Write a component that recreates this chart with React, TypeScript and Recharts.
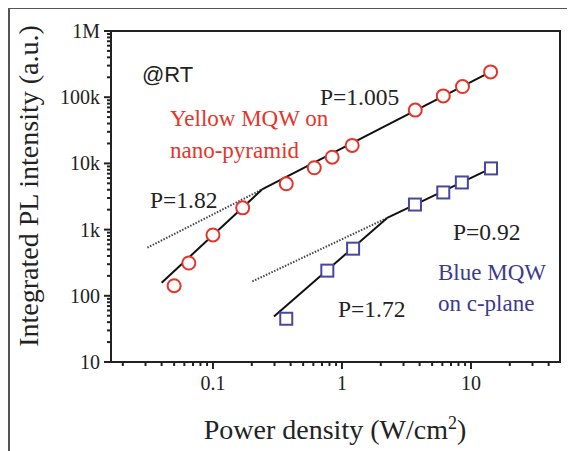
import React from "react";
import {
  ComposedChart,
  Line,
  Scatter,
  XAxis,
  YAxis,
  ReferenceArea,
  Customized,
} from "recharts";

// measured points (W/cm2, a.u.)
const yellowX = [0.05, 0.065, 0.1, 0.17, 0.37, 0.61, 0.84, 1.2, 3.7, 6.1, 8.6, 14.2];
const yellowY = [142, 313, 830, 2130, 4920, 8600, 12400, 18700, 63900, 104700, 145000, 241000];
const blueX = [0.37, 0.77, 1.22, 3.68, 6.1, 8.5, 14.3];
const blueY = [45, 240, 515, 2390, 3640, 5150, 8400];

// power-law fits
const yellowLowFit = [{ x: 0.04, y: 157 }, { x: 0.24, y: 4040 }];
const yellowHighFit = [{ x: 0.24, y: 4040 }, { x: 14.2, y: 241000 }];
const yellowDotted = [{ x: 0.031, y: 533 }, { x: 0.24, y: 4040 }];
const blueLowFit = [{ x: 0.297, y: 48.5 }, { x: 2.24, y: 1500 }];
const blueHighFit = [{ x: 2.24, y: 1500 }, { x: 14.3, y: 8400 }];
const blueDotted = [{ x: 0.202, y: 165 }, { x: 2.24, y: 1500 }];

const xDomain = [0.0162, 49];
const yDomain = [10, 1000000];
const xMajor = [0.1, 1, 10];
const xMinor = [
  0.02, 0.03, 0.04, 0.05, 0.06, 0.07, 0.08, 0.09,
  0.2, 0.3, 0.4, 0.5, 0.6, 0.7, 0.8, 0.9,
  2, 3, 4, 5, 6, 7, 8, 9,
  20, 30, 40,
];
const xLabels = ["0.1", "1", "10"];
const yMajor = [10, 100, 1000, 10000, 100000, 1000000];
const yMinor = [
  20, 30, 40, 50, 60, 70, 80, 90,
  200, 300, 400, 500, 600, 700, 800, 900,
  2000, 3000, 4000, 5000, 6000, 7000, 8000, 9000,
  20000, 30000, 40000, 50000, 60000, 70000, 80000, 90000,
  200000, 300000, 400000, 500000, 600000, 700000, 800000, 900000,
];
const yLabels = ["10", "100", "1k", "10k", "100k", "1M"];

const yellowPoints = yellowX.map((x, i) => ({ x, y: yellowY[i] }));
const bluePoints = blueX.map((x, i) => ({ x, y: blueY[i] }));

const SERIF = '"Liberation Serif", "Times New Roman", serif';
const AXIS = "#222";
const RED = "#e5352a";
const BLUE = "#4747a0";
const BLUE_TEXT = "#3b3b8e";

const XTick = (props: any) => {
  const { x, y, payload } = props;
  const idx = xMajor.indexOf(payload.value);
  const major = idx >= 0;
  return (
    <g>
      <line x1={x} x2={x} y1={y} y2={y + (major ? 7 : 4)} stroke={AXIS} strokeWidth={2} />
      {major && (
        <text x={x} y={y + 28} textAnchor="middle" fontFamily={SERIF} fontSize={20} fill="#222">
          {xLabels[idx]}
        </text>
      )}
    </g>
  );
};

const YTick = (props: any) => {
  const { x, y, payload } = props;
  const idx = yMajor.indexOf(payload.value);
  const major = idx >= 0;
  return (
    <g>
      <line x1={x} x2={x - (major ? 7 : 4)} y1={y} y2={y} stroke={AXIS} strokeWidth={2} />
      {major && (
        <text x={x - 11} y={y + 7} textAnchor="end" fontFamily={SERIF} fontSize={20} fill="#222">
          {yLabels[idx]}
        </text>
      )}
    </g>
  );
};

const Circle = (props: any) => (
  <circle cx={props.cx} cy={props.cy} r={6.5} fill="#fff" stroke={RED} strokeWidth={2} />
);

const Square = (props: any) => (
  <rect x={props.cx - 6} y={props.cy - 6} width={12} height={12} fill="#fff" stroke={BLUE} strokeWidth={2} />
);

const Annotations = () => (
  <g fontFamily={SERIF}>
    <text x={30} y={178} transform="rotate(-90 30 178)" textAnchor="middle" fontSize={28} fill="#222">
      Integrated PL intensity (a.u.)
    </text>
    <text x={327} y={431} textAnchor="middle" fontSize={28} fill="#222">
      Power density (W/cm<tspan dy={-10} fontSize={18}>2</tspan>
      <tspan dy={10}>)</tspan>
    </text>
    <text x={134} y={74} fontFamily='"Liberation Sans", Arial, sans-serif' fontSize={22} fill="#222">
      @RT
    </text>
    <text x={162} y={118} fontSize={23} fill={RED}>Yellow MQW on</text>
    <text x={162} y={150} fontSize={23} fill={RED}>nano-pyramid</text>
    <text x={312} y={97} fontSize={23.5} fill="#222">P=1.005</text>
    <text x={142} y={200} fontSize={23.5} fill="#222">P=1.82</text>
    <text x={445} y={232} fontSize={23.5} fill="#222">P=0.92</text>
    <text x={330} y={309} fontSize={23.5} fill="#222">P=1.72</text>
    <text x={430} y={272} fontSize={23} fill={BLUE_TEXT}>Blue MQW</text>
    <text x={430} y={303} fontSize={23} fill={BLUE_TEXT}>on c-plane</text>
  </g>
);

const fitLine = (data: Array<{ x: number; y: number }>, dotted = false) => (
  <Line
    data={data}
    dataKey="y"
    type="linear"
    stroke={dotted ? "#444" : "#111"}
    strokeWidth={2}
    strokeDasharray={dotted ? "1.5 1.5" : undefined}
    dot={false}
    isAnimationActive={false}
  />
);

export default function App() {
  return (
    <div style={{ position: "relative", width: 567, height: 443, background: "#fff" }}>
      <div
        style={{
          position: "absolute",
          left: 0,
          top: -1,
          width: 567,
          height: 444,
          borderLeft: "2px solid #555",
          borderTop: "2px solid #555",
          boxSizing: "border-box",
        }}
      />
      <div style={{ position: "absolute", left: 0, top: 0 }}>
        <ComposedChart width={567} height={443} margin={{ top: 23, right: 15, left: 0, bottom: 0 }}>
          <XAxis
            dataKey="x"
            type="number"
            scale="log"
            domain={xDomain}
            allowDataOverflow
            ticks={[...xMajor, ...xMinor]}
            interval={0}
            tick={<XTick />}
            tickSize={0}
            tickMargin={0}
            tickLine={false}
            height={89}
            axisLine={{ stroke: AXIS, strokeWidth: 2 }}
          />
          <YAxis
            type="number"
            scale="log"
            domain={yDomain}
            allowDataOverflow
            ticks={[...yMajor, ...yMinor]}
            interval={0}
            tick={<YTick />}
            tickSize={0}
            tickMargin={0}
            tickLine={false}
            width={103}
            axisLine={{ stroke: AXIS, strokeWidth: 2 }}
          />
          <ReferenceArea
            x1={xDomain[0]}
            x2={xDomain[1]}
            y1={yDomain[0]}
            y2={yDomain[1]}
            fill="none"
            stroke={AXIS}
            strokeWidth={2}
          />
          {fitLine(yellowDotted, true)}
          {fitLine(blueDotted, true)}
          {fitLine(yellowLowFit)}
          {fitLine(yellowHighFit)}
          {fitLine(blueLowFit)}
          {fitLine(blueHighFit)}
          <Scatter data={yellowPoints} dataKey="y" shape={<Circle />} isAnimationActive={false} />
          <Scatter data={bluePoints} dataKey="y" shape={<Square />} isAnimationActive={false} />
          <Customized component={<Annotations />} />
        </ComposedChart>
      </div>
    </div>
  );
}
